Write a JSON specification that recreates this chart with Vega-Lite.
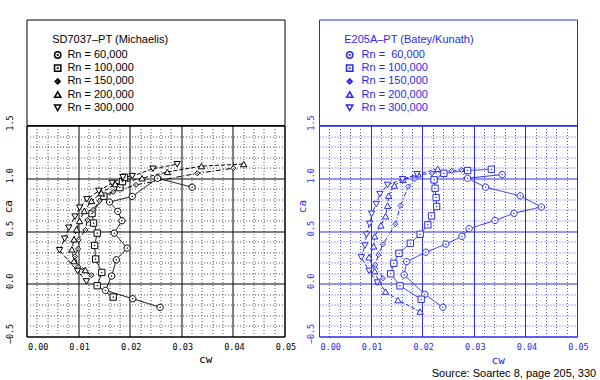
{
  "$schema": "https://vega.github.io/schema/vega-lite/v6.json",
  "background": "white",
  "padding": {"left": 1.5, "top": 18.5, "right": 0, "bottom": 0},
  "columns": 2,
  "spacing": {"row": 0, "column": 34.5},
  "bounds": "flush",
  "title": {"text": "Source: Soartec 8, page 205, 330", "orient": "bottom", "anchor": "end", "font": "Liberation Sans", "fontSize": 11, "fontWeight": "normal", "color": "black", "offset": 2, "dx": 7.5},
  "datasets": {
    "left": [
      {"Rn":"60,000","i":1,"cw":0.0259,"ca":-0.224},{"Rn":"60,000","i":2,"cw":0.0206,"ca":-0.142},{"Rn":"60,000","i":3,"cw":0.0153,"ca":-0.063},{"Rn":"60,000","i":4,"cw":0.0165,"ca":0.073},{"Rn":"60,000","i":5,"cw":0.0174,"ca":0.227},{"Rn":"60,000","i":6,"cw":0.0195,"ca":0.338},{"Rn":"60,000","i":7,"cw":0.0170,"ca":0.480},{"Rn":"60,000","i":8,"cw":0.0185,"ca":0.597},{"Rn":"60,000","i":9,"cw":0.0177,"ca":0.686},{"Rn":"60,000","i":10,"cw":0.0161,"ca":0.774},{"Rn":"60,000","i":11,"cw":0.0205,"ca":0.828},{"Rn":"60,000","i":12,"cw":0.0254,"ca":1.000},{"Rn":"60,000","i":13,"cw":0.0321,"ca":0.915},
      {"Rn":"100,000","i":1,"cw":0.0168,"ca":-0.126},{"Rn":"100,000","i":2,"cw":0.0137,"ca":-0.019},{"Rn":"100,000","i":3,"cw":0.0146,"ca":0.107},{"Rn":"100,000","i":4,"cw":0.0134,"ca":0.234},{"Rn":"100,000","i":5,"cw":0.0132,"ca":0.363},{"Rn":"100,000","i":6,"cw":0.0137,"ca":0.480},{"Rn":"100,000","i":7,"cw":0.0130,"ca":0.575},{"Rn":"100,000","i":8,"cw":0.0127,"ca":0.665},{"Rn":"100,000","i":9,"cw":0.0150,"ca":0.830},{"Rn":"100,000","i":10,"cw":0.0181,"ca":0.911},{"Rn":"100,000","i":11,"cw":0.0186,"ca":0.968},{"Rn":"100,000","i":12,"cw":0.0190,"ca":1.010},
      {"Rn":"150,000","i":1,"cw":0.0126,"ca":0.080},{"Rn":"150,000","i":2,"cw":0.0100,"ca":0.160},{"Rn":"150,000","i":3,"cw":0.0094,"ca":0.260},{"Rn":"150,000","i":4,"cw":0.0100,"ca":0.330},{"Rn":"150,000","i":5,"cw":0.0101,"ca":0.417},{"Rn":"150,000","i":6,"cw":0.0114,"ca":0.510},{"Rn":"150,000","i":7,"cw":0.0118,"ca":0.605},{"Rn":"150,000","i":8,"cw":0.0129,"ca":0.700},{"Rn":"150,000","i":9,"cw":0.0142,"ca":0.785},{"Rn":"150,000","i":10,"cw":0.0168,"ca":0.870},{"Rn":"150,000","i":11,"cw":0.0212,"ca":0.937},{"Rn":"150,000","i":12,"cw":0.0331,"ca":1.047},{"Rn":"150,000","i":13,"cw":0.0401,"ca":1.095},
      {"Rn":"200,000","i":1,"cw":0.0114,"ca":0.130},{"Rn":"200,000","i":2,"cw":0.0092,"ca":0.215},{"Rn":"200,000","i":3,"cw":0.0088,"ca":0.326},{"Rn":"200,000","i":4,"cw":0.0092,"ca":0.421},{"Rn":"200,000","i":5,"cw":0.0097,"ca":0.516},{"Rn":"200,000","i":6,"cw":0.0103,"ca":0.595},{"Rn":"200,000","i":7,"cw":0.0112,"ca":0.690},{"Rn":"200,000","i":8,"cw":0.0126,"ca":0.785},{"Rn":"200,000","i":9,"cw":0.0145,"ca":0.860},{"Rn":"200,000","i":10,"cw":0.0172,"ca":0.945},{"Rn":"200,000","i":11,"cw":0.0224,"ca":1.000},{"Rn":"200,000","i":12,"cw":0.0273,"ca":1.060},{"Rn":"200,000","i":13,"cw":0.0339,"ca":1.115},{"Rn":"200,000","i":14,"cw":0.0421,"ca":1.135},
      {"Rn":"300,000","i":1,"cw":0.0116,"ca":0.022},{"Rn":"300,000","i":2,"cw":0.0099,"ca":0.120},{"Rn":"300,000","i":3,"cw":0.0064,"ca":0.317},{"Rn":"300,000","i":4,"cw":0.0074,"ca":0.427},{"Rn":"300,000","i":5,"cw":0.0082,"ca":0.531},{"Rn":"300,000","i":6,"cw":0.0094,"ca":0.636},{"Rn":"300,000","i":7,"cw":0.0103,"ca":0.721},{"Rn":"300,000","i":8,"cw":0.0117,"ca":0.800},{"Rn":"300,000","i":9,"cw":0.0140,"ca":0.880},{"Rn":"300,000","i":10,"cw":0.0166,"ca":0.955},{"Rn":"300,000","i":11,"cw":0.0187,"ca":1.010},{"Rn":"300,000","i":12,"cw":0.0205,"ca":1.020},{"Rn":"300,000","i":13,"cw":0.0245,"ca":1.090},{"Rn":"300,000","i":14,"cw":0.0292,"ca":1.133}
    ],
    "right": [
      {"Rn":"60,000","i":1,"cw":0.0240,"ca":-0.223},{"Rn":"60,000","i":2,"cw":0.0205,"ca":-0.100},{"Rn":"60,000","i":3,"cw":0.0165,"ca":0.084},{"Rn":"60,000","i":4,"cw":0.0170,"ca":0.210},{"Rn":"60,000","i":5,"cw":0.0207,"ca":0.299},{"Rn":"60,000","i":6,"cw":0.0246,"ca":0.376},{"Rn":"60,000","i":7,"cw":0.0277,"ca":0.450},{"Rn":"60,000","i":8,"cw":0.0291,"ca":0.522},{"Rn":"60,000","i":9,"cw":0.0341,"ca":0.600},{"Rn":"60,000","i":10,"cw":0.0378,"ca":0.668},{"Rn":"60,000","i":11,"cw":0.0431,"ca":0.728},{"Rn":"60,000","i":12,"cw":0.0390,"ca":0.833},{"Rn":"60,000","i":13,"cw":0.0323,"ca":0.915},{"Rn":"60,000","i":14,"cw":0.0288,"ca":1.000},{"Rn":"60,000","i":15,"cw":0.0355,"ca":1.035},
      {"Rn":"100,000","i":1,"cw":0.0198,"ca":-0.147},{"Rn":"100,000","i":2,"cw":0.0157,"ca":-0.020},{"Rn":"100,000","i":3,"cw":0.0139,"ca":0.094},{"Rn":"100,000","i":4,"cw":0.0145,"ca":0.194},{"Rn":"100,000","i":5,"cw":0.0155,"ca":0.289},{"Rn":"100,000","i":6,"cw":0.0177,"ca":0.384},{"Rn":"100,000","i":7,"cw":0.0196,"ca":0.469},{"Rn":"100,000","i":8,"cw":0.0211,"ca":0.558},{"Rn":"100,000","i":9,"cw":0.0218,"ca":0.643},{"Rn":"100,000","i":10,"cw":0.0228,"ca":0.732},{"Rn":"100,000","i":11,"cw":0.0227,"ca":0.817},{"Rn":"100,000","i":12,"cw":0.0225,"ca":0.905},{"Rn":"100,000","i":13,"cw":0.0223,"ca":0.985},{"Rn":"100,000","i":14,"cw":0.0242,"ca":1.047},{"Rn":"100,000","i":15,"cw":0.0288,"ca":1.073},{"Rn":"100,000","i":16,"cw":0.0334,"ca":1.085},
      {"Rn":"150,000","i":1,"cw":0.0124,"ca":0.052},{"Rn":"150,000","i":2,"cw":0.0109,"ca":0.179},{"Rn":"150,000","i":3,"cw":0.0115,"ca":0.274},{"Rn":"150,000","i":4,"cw":0.0124,"ca":0.374},{"Rn":"150,000","i":5,"cw":0.0148,"ca":0.564},{"Rn":"150,000","i":6,"cw":0.0158,"ca":0.741},{"Rn":"150,000","i":7,"cw":0.0173,"ca":0.921},{"Rn":"150,000","i":8,"cw":0.0186,"ca":0.994},{"Rn":"150,000","i":9,"cw":0.0192,"ca":1.032},{"Rn":"150,000","i":10,"cw":0.0219,"ca":1.047},{"Rn":"150,000","i":11,"cw":0.0257,"ca":1.070},{"Rn":"150,000","i":12,"cw":0.0276,"ca":1.080},
      {"Rn":"200,000","i":1,"cw":0.0196,"ca":-0.264},{"Rn":"200,000","i":2,"cw":0.0153,"ca":-0.155},{"Rn":"200,000","i":3,"cw":0.0129,"ca":-0.074},{"Rn":"200,000","i":4,"cw":0.0115,"ca":0.021},{"Rn":"200,000","i":5,"cw":0.0108,"ca":0.120},{"Rn":"200,000","i":6,"cw":0.0097,"ca":0.251},{"Rn":"200,000","i":7,"cw":0.0106,"ca":0.355},{"Rn":"200,000","i":8,"cw":0.0108,"ca":0.450},{"Rn":"200,000","i":9,"cw":0.0120,"ca":0.553},{"Rn":"200,000","i":10,"cw":0.0129,"ca":0.640},{"Rn":"200,000","i":11,"cw":0.0133,"ca":0.740},{"Rn":"200,000","i":12,"cw":0.0135,"ca":0.835},{"Rn":"200,000","i":13,"cw":0.0146,"ca":0.931},{"Rn":"200,000","i":14,"cw":0.0163,"ca":0.985},{"Rn":"200,000","i":15,"cw":0.0192,"ca":1.038},{"Rn":"200,000","i":16,"cw":0.0230,"ca":1.089},
      {"Rn":"300,000","i":1,"cw":0.0113,"ca":0.011},{"Rn":"300,000","i":2,"cw":0.0097,"ca":0.122},{"Rn":"300,000","i":3,"cw":0.0082,"ca":0.250},{"Rn":"300,000","i":4,"cw":0.0089,"ca":0.362},{"Rn":"300,000","i":5,"cw":0.0092,"ca":0.465},{"Rn":"300,000","i":6,"cw":0.0098,"ca":0.568},{"Rn":"300,000","i":7,"cw":0.0102,"ca":0.663},{"Rn":"300,000","i":8,"cw":0.0111,"ca":0.755},{"Rn":"300,000","i":9,"cw":0.0118,"ca":0.850},{"Rn":"300,000","i":10,"cw":0.0133,"ca":0.937},{"Rn":"300,000","i":11,"cw":0.0162,"ca":0.991},{"Rn":"300,000","i":12,"cw":0.0190,"ca":1.038}
    ]
  },
  "concat": [
    {"data": {"values": []}, "mark": {"type": "point"}, "encoding": {}, "width": 258, "height": 105.5, "view": {"stroke": "black", "strokeWidth": 1}},
    {"data": {"values": []}, "mark": {"type": "point"}, "encoding": {}, "width": 258, "height": 105.5, "view": {"stroke": "#2a2aee", "strokeWidth": 1}},
    {
      "width": 258, "height": 211,
      "data": {"name": "left"},
      "view": {"stroke": "black", "strokeWidth": 1},
      "encoding": {
        "x": {"field": "cw", "type": "quantitative", "scale": {"domain": [0, 0.05], "nice": false, "zero": false},
          "axis": {"values": [0,0.002,0.004,0.006,0.008,0.01,0.012,0.014,0.016,0.018,0.02,0.022,0.024,0.026,0.028,0.03,0.032,0.034,0.036,0.038,0.04,0.042,0.044,0.046,0.048,0.05],
            "labelExpr": "abs(datum.value*100 - round(datum.value*100)) < 0.001 ? format(datum.value, '.2f') : ''",
            "grid": true, "ticks": false, "tickSize": 0, "domain": false, "labelOverlap": false,
            "gridColor": {"condition": {"test": "abs(datum.value*100 - round(datum.value*100)) < 0.001", "value": "black"}, "value": "#555555"},
            "gridDash": {"condition": {"test": "abs(datum.value*100 - round(datum.value*100)) < 0.001", "value": []}, "value": [1, 2]},
            "labelFont": "DejaVu Sans Mono", "labelFontSize": 8.5, "labelColor": "black", "labelPadding": 6, "labelOffset": 1,
            "labelAlign": {"condition": {"test": "datum.value < 0.0001", "value": "left"}, "value": "center"},
            "title": "cw", "titleX": 178.7, "titleY": 23, "titleAlign": "center", "titleBaseline": "middle", "titleFont": "DejaVu Sans Mono", "titleFontSize": 11, "titleFontWeight": "normal", "titleColor": "black"}},
        "y": {"field": "ca", "type": "quantitative", "scale": {"domain": [-0.5, 1.5], "nice": false, "zero": false},
          "axis": {"values": [-0.5,-0.4,-0.3,-0.2,-0.1,0,0.1,0.2,0.3,0.4,0.5,0.6,0.7,0.8,0.9,1,1.1,1.2,1.3,1.4,1.5],
            "labelExpr": "abs(datum.value*2 - round(datum.value*2)) < 0.001 ? format(datum.value, '.1f') : ''",
            "grid": true, "ticks": false, "tickSize": 0, "domain": false, "labelOverlap": false,
            "gridColor": {"condition": {"test": "abs(datum.value*2 - round(datum.value*2)) < 0.001", "value": "black"}, "value": "#555555"},
            "gridDash": {"condition": {"test": "abs(datum.value*2 - round(datum.value*2)) < 0.001", "value": []}, "value": [1, 2]},
            "labelFont": "DejaVu Sans Mono", "labelFontSize": 8.5, "labelColor": "black", "labelAngle": 270, "labelAlign": "center", "labelBaseline": "middle", "labelPadding": 17, "labelOffset": -3,
            "title": "ca", "titleX": -18, "titleY": 80.7, "titleAngle": 270, "titleAlign": "center", "titleBaseline": "middle", "titleFont": "DejaVu Sans Mono", "titleFontSize": 11, "titleFontWeight": "normal", "titleColor": "black"}}
      },
      "layer": [
        {"mark": {"type": "line", "color": "black", "strokeWidth": 1},
         "encoding": {
           "strokeDash": {"field": "Rn", "type": "nominal", "scale": {"domain": ["300,000","200,000","150,000","100,000","60,000"], "range": [[4,2],[4,2],[5,2,1,2],[1,0],[1,0]]}, "legend": null},
           "order": {"field": "i", "type": "quantitative"}}},
        {"mark": {"type": "point", "filled": true, "fill": "white", "stroke": "black", "strokeWidth": 1, "opacity": 1, "size": 40},
         "encoding": {
           "shape": {"field": "Rn", "type": "nominal",
             "scale": {"domain": ["60,000","100,000","150,000","200,000","300,000"],
               "range": ["M-1,0A1,1 0 1,0 1,0A1,1 0 1,0 -1,0ZM-0.12,0A0.12,0.12 0 1,0 0.12,0A0.12,0.12 0 1,0 -0.12,0Z", "M-1,-1H1V1H-1ZM-0.12,0A0.12,0.12 0 1,0 0.12,0A0.12,0.12 0 1,0 -0.12,0Z", "M0,-0.8L0.8,0L0,0.8L-0.8,0ZM-0.1,0A0.1,0.1 0 1,0 0.1,0A0.1,0.1 0 1,0 -0.1,0Z", "triangle-up", "triangle-down"]},
             "legend": {"orient": "none", "legendX": 25.7, "legendY": -92, "padding": 0,
               "title": "SD7037–PT (Michaelis)", "titleFont": "Liberation Sans", "titleFontSize": 11, "titleFontWeight": "normal", "titleColor": "black", "titlePadding": 5,
               "labelExpr": "'Rn = ' + datum.label", "labelFont": "Liberation Sans", "labelFontSize": 11, "labelColor": "black", "labelOffset": 4.2,
               "symbolSize": 40, "rowPadding": 0.2}}}}
      ]
    },
    {
      "width": 258, "height": 211,
      "data": {"name": "right"},
      "view": {"stroke": "#2a2aee", "strokeWidth": 1},
      "encoding": {
        "x": {"field": "cw", "type": "quantitative", "scale": {"domain": [0, 0.05], "nice": false, "zero": false},
          "axis": {"values": [0,0.002,0.004,0.006,0.008,0.01,0.012,0.014,0.016,0.018,0.02,0.022,0.024,0.026,0.028,0.03,0.032,0.034,0.036,0.038,0.04,0.042,0.044,0.046,0.048,0.05],
            "labelExpr": "abs(datum.value*100 - round(datum.value*100)) < 0.001 ? format(datum.value, '.2f') : ''",
            "grid": true, "ticks": false, "tickSize": 0, "domain": false, "labelOverlap": false,
            "gridColor": {"condition": {"test": "abs(datum.value*100 - round(datum.value*100)) < 0.001", "value": "#2a2aee"}, "value": "#5555ee"},
            "gridDash": {"condition": {"test": "abs(datum.value*100 - round(datum.value*100)) < 0.001", "value": []}, "value": [1, 2]},
            "labelFont": "DejaVu Sans Mono", "labelFontSize": 8.5, "labelColor": "#2a2aee", "labelPadding": 6, "labelOffset": 1,
            "labelAlign": {"condition": {"test": "datum.value < 0.0001", "value": "left"}, "value": "center"},
            "title": "cw", "titleX": 178.7, "titleY": 23.5, "titleAlign": "center", "titleBaseline": "middle", "titleFont": "DejaVu Sans Mono", "titleFontSize": 11, "titleFontWeight": "normal", "titleColor": "#2a2aee"}},
        "y": {"field": "ca", "type": "quantitative", "scale": {"domain": [-0.5, 1.5], "nice": false, "zero": false},
          "axis": {"values": [-0.5,-0.4,-0.3,-0.2,-0.1,0,0.1,0.2,0.3,0.4,0.5,0.6,0.7,0.8,0.9,1,1.1,1.2,1.3,1.4,1.5],
            "labelExpr": "abs(datum.value*2 - round(datum.value*2)) < 0.001 ? format(datum.value, '.1f') : ''",
            "grid": true, "ticks": false, "tickSize": 0, "domain": false, "labelOverlap": false,
            "gridColor": {"condition": {"test": "abs(datum.value*2 - round(datum.value*2)) < 0.001", "value": "#2a2aee"}, "value": "#5555ee"},
            "gridDash": {"condition": {"test": "abs(datum.value*2 - round(datum.value*2)) < 0.001", "value": []}, "value": [1, 2]},
            "labelFont": "DejaVu Sans Mono", "labelFontSize": 8.5, "labelColor": "#2a2aee", "labelAngle": 270, "labelAlign": "center", "labelBaseline": "middle", "labelPadding": 8.6, "labelOffset": -3,
            "title": "ca", "titleX": -16.3, "titleY": 80.5, "titleAngle": 270, "titleAlign": "center", "titleBaseline": "middle", "titleFont": "DejaVu Sans Mono", "titleFontSize": 11, "titleFontWeight": "normal", "titleColor": "#2a2aee"}}
      },
      "layer": [
        {"mark": {"type": "line", "color": "#2a2aee", "strokeWidth": 1},
         "encoding": {
           "strokeDash": {"field": "Rn", "type": "nominal", "scale": {"domain": ["300,000","200,000","150,000","100,000","60,000"], "range": [[4,2],[4,2],[5,2,1,2],[1,0],[1,0]]}, "legend": null},
           "order": {"field": "i", "type": "quantitative"}}},
        {"mark": {"type": "point", "filled": true, "fill": "white", "stroke": "#2a2aee", "strokeWidth": 1, "opacity": 1, "size": 40},
         "encoding": {
           "shape": {"field": "Rn", "type": "nominal",
             "scale": {"domain": ["60,000","100,000","150,000","200,000","300,000"],
               "range": ["M-1,0A1,1 0 1,0 1,0A1,1 0 1,0 -1,0ZM-0.12,0A0.12,0.12 0 1,0 0.12,0A0.12,0.12 0 1,0 -0.12,0Z", "M-1,-1H1V1H-1ZM-0.12,0A0.12,0.12 0 1,0 0.12,0A0.12,0.12 0 1,0 -0.12,0Z", "M0,-0.8L0.8,0L0,0.8L-0.8,0ZM-0.1,0A0.1,0.1 0 1,0 0.1,0A0.1,0.1 0 1,0 -0.1,0Z", "triangle-up", "triangle-down"]},
             "legend": {"orient": "none", "legendX": 25.2, "legendY": -92, "padding": 0,
               "title": "E205A–PT (Batey/Kunath)", "titleFont": "Liberation Sans", "titleFontSize": 11, "titleFontWeight": "normal", "titleColor": "#2a2aee", "titlePadding": 5,
               "labelExpr": "'Rn = ' + (datum.label == '60,000' ? '\u00a0' : '') + datum.label", "labelFont": "Liberation Sans", "labelFontSize": 11, "labelColor": "#2a2aee", "labelOffset": 6.4,
               "symbolSize": 40, "rowPadding": 0.2}}}}
      ]
    }
  ],
  "resolve": {"scale": {"shape": "independent", "strokeDash": "independent"}, "legend": {"shape": "independent", "strokeDash": "independent"}},
  "config": {"font": "Liberation Sans", "view": {"stroke": "black"}}
}
